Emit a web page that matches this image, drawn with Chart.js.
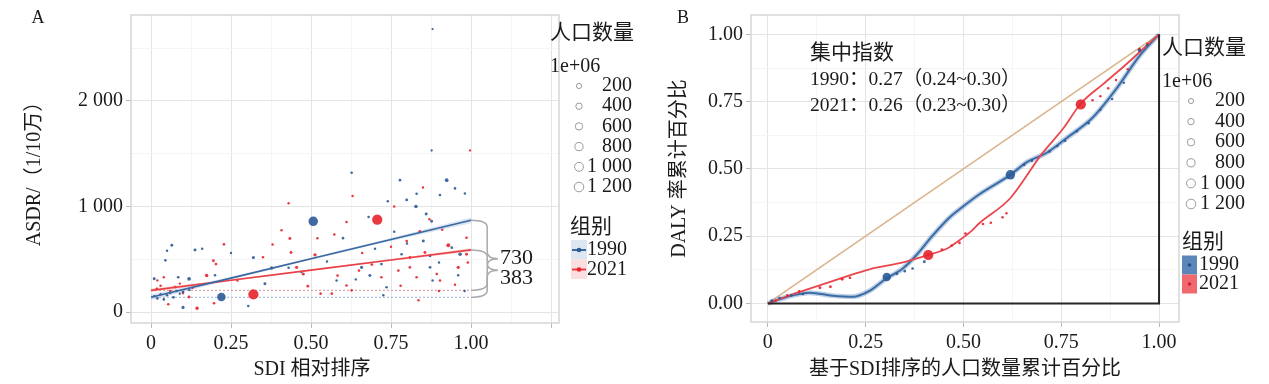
<!DOCTYPE html>
<html>
<head>
<meta charset="utf-8">
<script src="https://cdn.jsdelivr.net/npm/chart.js@4.4.0/dist/chart.umd.min.js"></script>
<style>
  body { margin: 0; background: #fff; width: 1269px; height: 384px; overflow: hidden; position: relative; }
  #wrapA { position: absolute; left: 0; top: 0; width: 640px; height: 384px; }
  #wrapB { position: absolute; left: 640px; top: 0; width: 629px; height: 384px; }
</style>
</head>
<body>
<div id="wrapA"><canvas id="chartA"></canvas></div>
<div id="wrapB"><canvas id="chartB"></canvas></div>
<script>
// ---- panel A: ASDR vs SDI rank ----
const sdi1990 = [0.01, 0.02, 0.03, 0.04, 0.05, 0.06, 0.07, 0.08, 0.09, 0.10, 0.12, 0.01, 0.065, 0.085, 0.10, 0.119, 0.1375, 0.22, 0.32, 0.356, 0.377, 0.507, 0.304, 0.627, 0.924, 0.778, 0.828, 0.799, 0.86, 0.877, 0.83, 0.95, 0.981, 0.658, 0.684, 0.72, 0.851, 0.872, 0.94, 0.966, 0.783, 0.736, 0.872, 0.726, 0.903, 0.05, 0.045, 0.16, 0.20, 0.25, 0.43, 0.47, 0.55, 0.60, 0.68, 0.74, 0.76, 0.64, 0.88, 0.98, 0.96, 0.58, 0.80, 0.90, 0.70, 0.88, 0.877];
const asdr1990 = [150, 130, 170, 120, 160, 180, 140, 200, 175, 190, 210, 315, 633, 330, 44, 315, 589, 143, 517, 268, 418, 860, 59, 1320, 1249, 1249, 1000, 1062, 929, 860, 1120, 1171, 1124, 424, 346, 455, 673, 533, 610, 548, 548, 236, 424, 159, 1109, 580, 490, 600, 350, 560, 420, 380, 480, 700, 900, 1050, 760, 310, 300, 200, 350, 300, 650, 470, 600, 2680, 1530];
const pop1990 = [5, 8, 3, 10, 6, 4, 12, 5, 3, 8, 4, 20, 15, 10, 30, 60, 20, 870, 25, 20, 40, 1150, 5, 8, 60, 10, 45, 15, 20, 15, 6, 8, 5, 25, 20, 10, 20, 15, 10, 50, 10, 8, 10, 5, 8, 5, 6, 5, 6, 3, 8, 6, 5, 8, 6, 5, 6, 5, 5, 6, 6, 5, 5, 5, 6, 2, 2];

const sdi2021 = [0.018, 0.054, 0.075, 0.119, 0.144, 0.174, 0.195, 0.203, 0.228, 0.197, 0.32, 0.4375, 0.434, 0.455, 0.476, 0.5125, 0.49, 0.408, 0.573, 0.583, 0.565, 0.53, 0.707, 0.611, 0.929, 0.96, 0.986, 0.986, 0.856, 0.809, 0.809, 0.893, 0.773, 0.799, 0.84, 0.903, 0.83, 0.611, 0.65, 0.627, 0.836, 0.03, 0.06, 0.09, 0.10, 0.13, 0.02, 0.04, 0.27, 0.35, 0.38, 0.52, 0.66, 0.69, 0.72, 0.75, 0.78, 0.87, 0.91, 0.95, 0.99, 0.90, 0.63, 0.76, 0.85, 0.43, 0.997];
const asdr2021 = [221, 75, 237, 143, 37, 346, 486, 455, 642, 84, 168, 564, 698, 424, 361, 542, 246, 776, 735, 346, 175, 175, 875, 853, 633, 424, 548, 704, 564, 517, 424, 361, 393, 673, 766, 299, 330, 252, 393, 206, 112, 250, 200, 270, 180, 230, 300, 330, 300, 520, 640, 700, 560, 450, 330, 620, 250, 880, 780, 260, 470, 200, 1100, 1000, 1180, 1031, 1530];
const pop2021 = [10, 8, 12, 20, 40, 50, 15, 15, 10, 10, 1400, 15, 20, 25, 25, 40, 15, 5, 8, 8, 10, 8, 1420, 8, 70, 30, 20, 10, 20, 15, 10, 10, 8, 10, 8, 8, 8, 10, 8, 8, 5, 5, 6, 4, 8, 5, 3, 4, 5, 6, 4, 5, 6, 10, 6, 5, 6, 5, 5, 6, 8, 5, 4, 5, 4, 3, 2];

// linear fits and their confidence band
const fitX = [0, 0.25, 0.5, 0.75, 1];
const fit1990 = [140, 322, 505, 687, 869];
const fit1990Lo = [112, 308, 496, 673, 841];
const fit1990Hi = [168, 336, 514, 701, 897];
const fit2021 = [206, 302, 398, 493, 589];
const fit2021Lo = [188, 293, 391, 484, 571];
const fit2021Hi = [224, 311, 405, 502, 607];
// dotted reference levels
const levelX = [0, 1];
const level1990 = [140, 140];
const level2021 = [206, 206];
const gapLabels = ['730', '383'];

const gridXA = [0, 0.125, 0.25, 0.375, 0.5, 0.625, 0.75, 0.875, 1, 1.125, 1.25];
const tickXA = [0, 0.25, 0.5, 0.75, 1, 1.25];
const tickXALabels = ['0', '0.25', '0.50', '0.75', '1.00', ''];
const gridYA = [0, 500, 1000, 1500, 2000, 2500];
const tickYA = [0, 1000, 2000];
const tickYALabels = ['0', '1 000', '2 000'];

// ---- panel B: concentration curves ----
const curveX1990 = [0, 0.05, 0.107, 0.166, 0.217, 0.26, 0.30, 0.345, 0.38, 0.42, 0.465, 0.49, 0.54, 0.62, 0.662, 0.713, 0.764, 0.83, 0.892, 0.95, 1];
const curveY1990 = [0, 0.025, 0.04, 0.029, 0.025, 0.047, 0.09, 0.13, 0.18, 0.25, 0.32, 0.35, 0.405, 0.478, 0.525, 0.56, 0.615, 0.69, 0.80, 0.92, 1];
const curveX2021 = [0, 0.065, 0.107, 0.19, 0.26, 0.337, 0.405, 0.457, 0.49, 0.517, 0.542, 0.619, 0.70, 0.755, 0.80, 0.857, 0.917, 0.977, 1];
const curveY2021 = [0, 0.035, 0.055, 0.095, 0.127, 0.15, 0.178, 0.203, 0.235, 0.265, 0.30, 0.39, 0.555, 0.65, 0.743, 0.815, 0.89, 0.97, 1];

const ptX1990 = [0.01, 0.03, 0.06, 0.09, 0.304, 0.33, 0.35, 0.37, 0.40, 0.62, 0.655, 0.675, 0.72, 0.74, 0.76, 0.79, 0.82, 0.85, 0.88, 0.91, 0.95, 0.97];
const ptY1990 = [0.01, 0.02, 0.03, 0.035, 0.098, 0.11, 0.12, 0.13, 0.155, 0.478, 0.515, 0.53, 0.565, 0.585, 0.605, 0.64, 0.67, 0.72, 0.76, 0.82, 0.94, 0.96];
const ptPop1990 = [20, 10, 15, 8, 870, 10, 8, 8, 20, 1150, 10, 8, 10, 8, 8, 6, 6, 6, 6, 5, 40, 6];
const ptX2021 = [0.02, 0.05, 0.08, 0.133, 0.16, 0.19, 0.21, 0.41, 0.445, 0.47, 0.49, 0.505, 0.55, 0.57, 0.60, 0.61, 0.80, 0.83, 0.85, 0.87, 0.89, 0.92, 0.95, 0.97];
const ptY2021 = [0.01, 0.03, 0.045, 0.058, 0.062, 0.09, 0.095, 0.18, 0.20, 0.215, 0.225, 0.26, 0.295, 0.30, 0.32, 0.335, 0.74, 0.755, 0.77, 0.80, 0.83, 0.87, 0.945, 0.965];
const ptPop2021 = [10, 8, 10, 20, 15, 20, 10, 1400, 15, 10, 8, 10, 8, 8, 6, 5, 1420, 6, 6, 6, 6, 6, 30, 6];

const equalityX = [0, 1];
const equalityY = [0, 1];
const frameX = [0, 1, 1];
const frameY = [0, 0, 1];
const ciLines = ['集中指数', '1990：0.27（0.24~0.30）', '2021：0.26（0.23~0.30）'];

const gridB = [0, 0.125, 0.25, 0.375, 0.5, 0.625, 0.75, 0.875, 1];
const tickXB = [0, 0.25, 0.5, 0.75, 1];
const tickXBLabels = ['0', '0.25', '0.50', '0.75', '1.00'];
const tickYBLabels = ['0.00', '0.25', '0.50', '0.75', '1.00'];

// legends
const sizeLegend = [200, 400, 600, 800, 1000, 1200];
const sizeLegendLabels = ['200', '400', '600', '800', '1 000', '1 200'];
const groups = ['1990', '2021'];

const FONT = '"Liberation Serif", "Noto Sans CJK SC", serif';
const INK = '#1a1a1a';
const BLUE = 'rgba(43,90,150,0.9)';
const RED = 'rgba(230,36,44,0.9)';

const popRadius = p => 1 + 0.11 * Math.sqrt(p);
const zip = (xs, ys) => xs.map((x, i) => ({ x, y: ys[i] }));

function lineDs(xs, ys, color, width, extra) {
  return Object.assign({ data: zip(xs, ys), showLine: true, borderColor: color, borderWidth: width,
    pointRadius: 0, fill: false }, extra || {});
}
function pointsDs(xs, ys, pops, color) {
  return { data: zip(xs, ys), showLine: false, pointRadius: c => popRadius(pops[c.dataIndex]),
    pointBackgroundColor: color, pointBorderWidth: 0 };
}

function text(ctx, s, x, y, size, align) {
  ctx.font = size + 'px ' + FONT;
  ctx.textAlign = align || 'left';
  ctx.textBaseline = 'middle';
  ctx.fillStyle = INK;
  ctx.fillText(s, x, y);
}

function sizeLegendDraw(ctx, left, top, circleX, textRight, rowH) {
  text(ctx, '人口数量', left, top, 21);
  text(ctx, '1e+06', left, top + 34, 20);
  sizeLegend.forEach((p, i) => {
    const cy = top + 53 + i * rowH;
    ctx.beginPath();
    ctx.arc(circleX, cy, popRadius(p), 0, Math.PI * 2);
    ctx.strokeStyle = '#9a9a9a';
    ctx.lineWidth = 1;
    ctx.stroke();
    text(ctx, sizeLegendLabels[i], textRight, cy, 20, 'right');
  });
}

function brace(ctx, x0, yTop, yBot, w) {
  const ym = (yTop + yBot) / 2, r = Math.min(7, (yBot - yTop) / 4), xb = x0 + w * 0.6;
  ctx.beginPath();
  ctx.moveTo(x0, yTop);
  ctx.quadraticCurveTo(xb, yTop, xb, yTop + r);
  ctx.lineTo(xb, ym - r);
  ctx.quadraticCurveTo(xb, ym, x0 + w, ym);
  ctx.quadraticCurveTo(xb, ym, xb, ym + r);
  ctx.lineTo(xb, yBot - r);
  ctx.quadraticCurveTo(xb, yBot, x0, yBot);
  ctx.stroke();
}

function gridOpts(majors) {
  return {
    color: c => (c.tick && majors.includes(c.tick.value)) ? '#e4e4e4' : '#f2f2f2',
    lineWidth: c => (c.tick && majors.includes(c.tick.value)) ? 1 : 0.8,
    tickColor: c => (c.tick && majors.includes(c.tick.value)) ? '#b8b8b8' : 'rgba(0,0,0,0)',
    tickLength: 5
  };
}
const tickFont = { family: FONT, size: 20 };

const annotA = {
  id: 'annotA',
  afterDraw(chart) {
    const { ctx, chartArea: a, scales: { x, y } } = chart;
    ctx.save();
    ctx.strokeStyle = '#d6d6d6';
    ctx.lineWidth = 1.5;
    ctx.strokeRect(a.left, a.top, a.right - a.left, a.bottom - a.top);

    // braces showing the gap between fitted end and reference level
    const xe = x.getPixelForValue(1);
    ctx.strokeStyle = '#a9a9a9';
    ctx.lineWidth = 1.5;
    const b1 = [y.getPixelForValue(fit1990[fit1990.length - 1]), y.getPixelForValue(level1990[1])];
    const b2 = [y.getPixelForValue(fit2021[fit2021.length - 1]), y.getPixelForValue(level2021[1])];
    brace(ctx, xe, b1[0], b1[1], 27);
    brace(ctx, xe, b2[0], b2[1], 27);
    text(ctx, gapLabels[0], xe + 29, (b1[0] + b1[1]) / 2 - 1, 22);
    text(ctx, gapLabels[1], xe + 29, (b2[0] + b2[1]) / 2 + 8, 22);

    text(ctx, 'A', 38, 18, 18, 'center');
    text(ctx, 'SDI 相对排序', 312, 370, 20, 'center');

    sizeLegendDraw(ctx, 550, 33, 579, 632, 20.2);

    text(ctx, '组别', 570, 227, 21);
    const keyCols = [['#dde6f1', '#3a68a0', 'rgba(43,90,150,1)'], ['#fbdfe0', '#ea3f46', 'rgba(230,36,44,1)']];
    groups.forEach((g, i) => {
      const cy = 250 + i * 19.5;
      ctx.fillStyle = keyCols[i][0];
      ctx.fillRect(571, cy - 10, 16, 19.5);
      ctx.strokeStyle = keyCols[i][1];
      ctx.lineWidth = 2;
      ctx.beginPath(); ctx.moveTo(572, cy); ctx.lineTo(586, cy); ctx.stroke();
      ctx.fillStyle = keyCols[i][2];
      ctx.beginPath(); ctx.arc(579, cy, 2.3, 0, Math.PI * 2); ctx.fill();
      text(ctx, g, 587, cy, 20);
    });
    ctx.restore();
  }
};

new Chart(document.getElementById('chartA'), {
  type: 'scatter',
  data: {
    datasets: [
      lineDs(fitX, fit1990, '#3a68a0', 1.6),
      lineDs(fitX, fit2021, '#ea3f46', 1.6),
      pointsDs(sdi1990, asdr1990, pop1990, BLUE),
      pointsDs(sdi2021, asdr2021, pop2021, RED),
      lineDs(levelX, level2021, '#dba6a6', 1.2, { borderDash: [2, 2] }),
      lineDs(levelX, level1990, '#a9bcdc', 1.2, { borderDash: [2, 2] }),
      lineDs(fitX, fit1990Hi, 'rgba(0,0,0,0)', 0, { fill: '+1', backgroundColor: 'rgba(120,160,210,0.28)' }),
      lineDs(fitX, fit1990Lo, 'rgba(0,0,0,0)', 0),
      lineDs(fitX, fit2021Hi, 'rgba(0,0,0,0)', 0, { fill: '+1', backgroundColor: 'rgba(240,120,120,0.22)' }),
      lineDs(fitX, fit2021Lo, 'rgba(0,0,0,0)', 0)
    ]
  },
  options: {
    responsive: true, maintainAspectRatio: false, animation: false, devicePixelRatio: 1, events: [],
    layout: { padding: { left: 0, right: 81, top: 11, bottom: 0 } },
    plugins: { legend: { display: false }, tooltip: { enabled: false } },
    scales: {
      x: {
        type: 'linear', min: -0.0625, max: 1.275,
        afterBuildTicks: s => { s.ticks = gridXA.map(v => ({ value: v })); },
        afterFit: s => { s.height = 61; },
        grid: gridOpts(tickXA), border: { display: false },
        ticks: { autoSkip: false, maxRotation: 0, padding: 4, font: tickFont, color: INK,
          callback: v => { const i = tickXA.indexOf(v); return i < 0 ? '' : tickXALabels[i]; } }
      },
      y: {
        type: 'linear', min: -103, max: 2813,
        afterBuildTicks: s => { s.ticks = gridYA.map(v => ({ value: v })); },
        afterFit: s => { s.width = 131; },
        grid: gridOpts(tickYA), border: { display: false },
        ticks: { autoSkip: false, padding: 3, font: tickFont, color: INK,
          callback: v => { const i = tickYA.indexOf(v); return i < 0 ? '' : tickYALabels[i]; } },
        title: { display: true, text: 'ASDR/（1/10万）', font: { family: FONT, size: 20 }, color: INK,
          padding: { top: 23, bottom: 0 } }
      }
    }
  },
  plugins: [annotA]
});

const annotB = {
  id: 'annotB',
  beforeDatasetsDraw(chart) {
    const { ctx, chartArea: a } = chart;
    ctx.save();
    ctx.strokeStyle = '#d6d6d6';
    ctx.lineWidth = 1.5;
    ctx.strokeRect(a.left, a.top, a.right - a.left, a.bottom - a.top);
    ctx.restore();
  },
  afterDraw(chart) {
    const { ctx } = chart;
    ctx.save();
    text(ctx, 'B', 43, 18, 18, 'center');
    ciLines.forEach((s, i) => text(ctx, s, 170, 53 + i * 26.5, i === 0 ? 21 : 19.5));
    sizeLegendDraw(ctx, 522, 48, 551, 605, 20.6);
    text(ctx, '组别', 542, 242, 21);
    const fills = ['#5a86ba', '#ee6a6e'], dots = ['#1f4f8a', '#d81e26'];
    groups.forEach((g, i) => {
      const cy = 265 + i * 19;
      ctx.fillStyle = fills[i];
      ctx.fillRect(542, cy - 9.5, 15, 19);
      ctx.fillStyle = dots[i];
      ctx.beginPath(); ctx.arc(549.5, cy, 1.8, 0, Math.PI * 2); ctx.fill();
      text(ctx, g, 559, cy, 20);
    });
    ctx.restore();
  }
};

new Chart(document.getElementById('chartB'), {
  type: 'scatter',
  data: {
    datasets: [
      lineDs(frameX, frameY, '#262626', 2),
      pointsDs(ptX1990, ptY1990, ptPop1990, BLUE),
      pointsDs(ptX2021, ptY2021, ptPop2021, RED),
      lineDs(curveX2021, curveY2021, '#e9474d', 1.8, { cubicInterpolationMode: 'monotone' }),
      lineDs(curveX1990, curveY1990, '#3b6ca6', 2, { cubicInterpolationMode: 'monotone' }),
      lineDs(curveX1990, curveY1990, 'rgba(70,120,180,0.35)', 5, { cubicInterpolationMode: 'monotone' }),
      lineDs(equalityX, equalityY, '#d9b48c', 1.6)
    ]
  },
  options: {
    responsive: true, maintainAspectRatio: false, animation: false, devicePixelRatio: 1, events: [],
    layout: { padding: { left: 0, right: 90, top: 7, bottom: 0 } },
    plugins: { legend: { display: false }, tooltip: { enabled: false } },
    scales: {
      x: {
        type: 'linear', min: -0.043, max: 1.051,
        afterBuildTicks: s => { s.ticks = gridB.map(v => ({ value: v })); },
        afterFit: s => { s.height = 62; },
        grid: gridOpts(tickXB), border: { display: false },
        ticks: { autoSkip: false, maxRotation: 0, padding: 4, font: tickFont, color: INK,
          callback: v => { const i = tickXB.indexOf(v); return i < 0 ? '' : tickXBLabels[i]; } },
        title: { display: true, text: '基于SDI排序的人口数量累计百分比', font: { family: FONT, size: 20 }, color: INK,
          padding: { top: 0, bottom: 2 } }
      },
      y: {
        type: 'linear', min: -0.069, max: 1.072,
        afterBuildTicks: s => { s.ticks = gridB.map(v => ({ value: v })); },
        afterFit: s => { s.width = 111; },
        grid: gridOpts(tickXB), border: { display: false },
        ticks: { autoSkip: false, padding: 3, font: tickFont, color: INK,
          callback: v => { const i = tickXB.indexOf(v); return i < 0 ? '' : tickYBLabels[i]; } },
        title: { display: true, text: 'DALY 率累计百分比', font: { family: FONT, size: 20 }, color: INK,
          padding: { top: 28, bottom: 0 } }
      }
    }
  },
  plugins: [annotB]
});
</script>
</body>
</html>
